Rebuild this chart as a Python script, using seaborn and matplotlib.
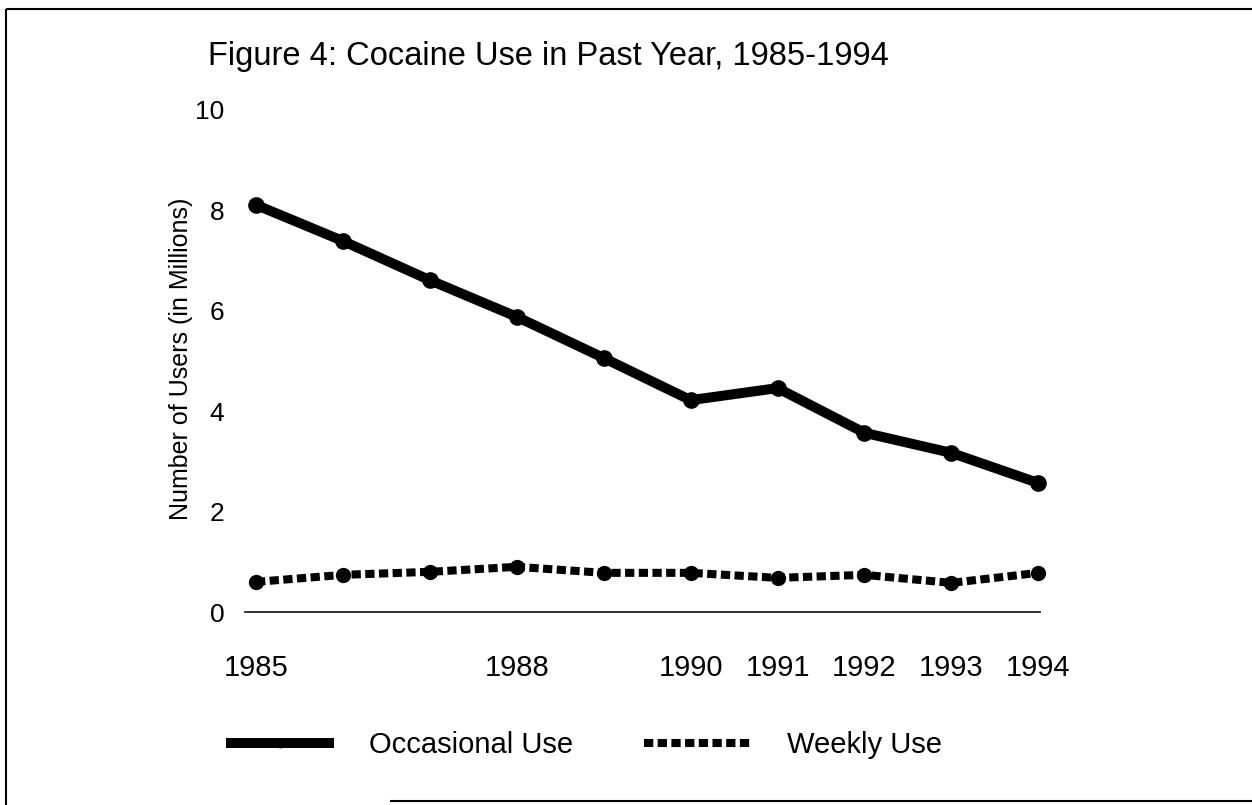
import numpy as np
import pandas as pd
import matplotlib
matplotlib.use("Agg")
import matplotlib.pyplot as plt
from matplotlib.lines import Line2D
import seaborn as sns

years = [1985, 1986, 1987, 1988, 1989, 1990, 1991, 1992, 1993, 1994]
occasional = [8.11, 7.39, 6.61, 5.88, 5.06, 4.22, 4.46, 3.57, 3.17, 2.57]
weekly = [0.60, 0.74, 0.80, 0.90, 0.78, 0.78, 0.68, 0.74, 0.58, 0.78]
tick_years = [1985, 1988, 1990, 1991, 1992, 1993, 1994]
y_ticks = [0, 2, 4, 6, 8, 10]
title = "Figure 4: Cocaine Use in Past Year, 1985-1994"
ylabel = "Number of Users (in Millions)"
series_names = ["Occasional Use", "Weekly Use"]

df = pd.DataFrame({"Year": years, "Occasional": occasional, "Weekly": weekly})

sns.set_theme(style="white")
plt.rcParams["font.family"] = ["Liberation Sans", "DejaVu Sans"]
plt.rcParams["text.color"] = "black"
plt.rcParams["xtick.color"] = "black"
plt.rcParams["ytick.color"] = "black"
plt.rcParams["axes.labelcolor"] = "black"
plt.rcParams["lines.solid_capstyle"] = "butt"

fig = plt.figure(figsize=(12.52, 8.05), dpi=100)
ax = fig.add_axes([245 / 1252, 1 - 612 / 805, (1040 - 245) / 1252, (612 - 110) / 805])

sns.lineplot(data=df, x="Year", y="Occasional", ax=ax, color="black",
             linewidth=7.2, marker="o", markersize=12, mec="black", mfc="black",
             mew=0, label=series_names[0], clip_on=False,
             solid_capstyle="round")
sns.lineplot(data=df, x="Year", y="Weekly", ax=ax, color="black",
             linewidth=5.8, linestyle=(0, (1.15, 0.55)), marker="o", markersize=11,
             mec="black", mfc="black", mew=0, label=series_names[1], clip_on=False)

ax.set_xlim(1985 - 11 / 86.9, 1994.02)
ax.set_ylim(0, 10)
ax.set_xticks(tick_years)
ax.set_xticklabels([str(y) for y in tick_years], fontsize=21)
ax.set_yticks(y_ticks)
ax.set_yticklabels([str(v) for v in y_ticks], fontsize=19)
ax.tick_params(axis="x", length=0, pad=30)
ax.tick_params(axis="y", length=0, pad=15)
ax.set_xlabel("")
ax.set_ylabel(ylabel, fontsize=18)
ax.yaxis.set_label_coords(-0.066, 0.505)

for s in ["top", "right", "left"]:
    ax.spines[s].set_visible(False)
ax.spines["bottom"].set_color("#222222")
ax.spines["bottom"].set_linewidth(1.3)

ax.get_legend().remove()
occ_handle = Line2D([], [], color="black", lw=7.2, solid_capstyle="butt",
                    marker="o", markersize=6, mfc="black", mec="black")
wk_handle = Line2D([], [], color="black", lw=5.8, linestyle=(0, (1.15, 0.55)),
                   dash_capstyle="butt")
fig.legend([occ_handle, wk_handle], series_names, loc="center",
           bbox_to_anchor=(584 / 1252, 1 - 745 / 805),
           ncol=2, frameon=False, fontsize=21, handlelength=3.73,
           handletextpad=1.2, columnspacing=2.4, numpoints=1)

fig.text(208 / 1252, 1 - 57 / 805, title, fontsize=23.5, ha="left", va="center")

# page border
fig.add_artist(Line2D([6 / 1252, 6 / 1252], [0, 1 - 9 / 805], color="black", lw=1.5))
fig.add_artist(Line2D([6 / 1252, 1], [1 - 9 / 805, 1 - 9 / 805], color="black", lw=1.5))
fig.add_artist(Line2D([390 / 1252, 1], [1 - 801 / 805, 1 - 801 / 805], color="black", lw=1.5))

fig.savefig("out.png", dpi=100, facecolor="white")
